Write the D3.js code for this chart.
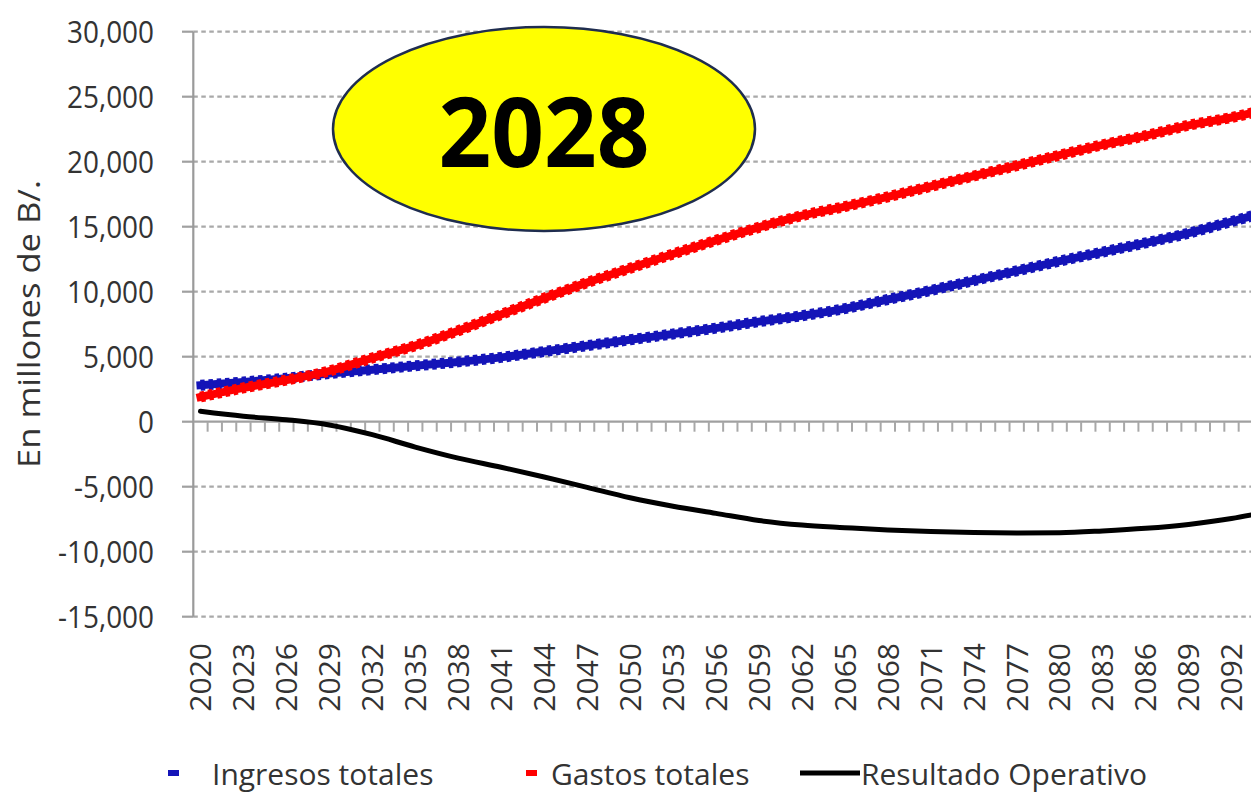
<!DOCTYPE html>
<html>
<head>
<meta charset="utf-8">
<script src="https://cdn.jsdelivr.net/npm/d3@7"></script>
<style>
  html, body { margin: 0; padding: 0; background: #fff; }
  svg { display: block; font-family: "Open Sans", "DejaVu Sans", sans-serif; }
</style>
</head>
<body>
<svg id="chart" width="1251" height="793"></svg>
<script>
// ---- data ----
const years = [2020, 2023, 2026, 2029, 2032, 2035, 2038, 2041, 2044, 2047, 2050, 2053, 2056,
               2059, 2062, 2065, 2068, 2071, 2074, 2077, 2080, 2083, 2086, 2089, 2092, 2094];
const ingresosTotales = [2800, 3050, 3350, 3700, 4000, 4300, 4600, 4950, 5400, 5850, 6300, 6750, 7200,
                         7700, 8150, 8700, 9400, 10100, 10850, 11600, 12350, 13050, 13750, 14500, 15400, 16000];
const gastosTotales = [1900, 2600, 3200, 3900, 4900, 5850, 7000, 8250, 9500, 10700, 11800, 12900, 13950,
                       14950, 15850, 16550, 17300, 18100, 18900, 19700, 20500, 21300, 22000, 22800, 23400, 23900];
const resultadoOperativo = [800, 420, 150, -250, -1000, -1950, -2800, -3500, -4250, -5050, -5850, -6500, -7050,
                            -7600, -7950, -8150, -8330, -8450, -8530, -8560, -8540, -8400, -8200, -7900, -7450, -7050];
const xTickLabels = ["2020","2023","2026","2029","2032","2035","2038","2041","2044","2047","2050","2053","2056",
                     "2059","2062","2065","2068","2071","2074","2077","2080","2083","2086","2089","2092"];
const yTicks = [30000, 25000, 20000, 15000, 10000, 5000, 0, -5000, -10000, -15000];
const seriesNames = ["Ingresos totales", "Gastos totales", "Resultado Operativo"];
const badgeText = "2028";
const yTitle = "En millones de B/.";

// ---- layout ----
const svg = d3.select("#chart");
const axisX = 193.3;
const step = 14.32;
const allYears = d3.range(2020, 2095);
const x = d3.scaleBand().domain(allYears).range([axisX, axisX + step * allYears.length]).padding(0);
const xc = yr => x(yr) + x.bandwidth() / 2;
const y = d3.scaleLinear().domain([-15000, 30000]).range([616.7, 31.7]);
const fmt = v => d3.format(",")(v).replace("\u2212", "-");
const textColor = "#333333";

const grid = svg.append("g");
// dotted gridlines
grid.selectAll("line.g").data(yTicks.filter(d => d !== 0)).enter().append("line")
  .attr("x1", axisX).attr("x2", 1251)
  .attr("y1", d => y(d)).attr("y2", d => y(d))
  .attr("stroke", "#a9a9a9").attr("stroke-width", 2.2).attr("stroke-dasharray", "4.5,3.5");
// y-axis outer ticks
grid.selectAll("line.t").data(yTicks).enter().append("line")
  .attr("x1", 182).attr("x2", axisX)
  .attr("y1", d => y(d)).attr("y2", d => y(d))
  .attr("stroke", "#a0a0a0").attr("stroke-width", 2.2);
// y axis line
grid.append("line").attr("x1", axisX).attr("x2", axisX).attr("y1", y(30000)).attr("y2", y(-15000))
  .attr("stroke", "#9a9a9a").attr("stroke-width", 2.2);
// zero (category) axis
grid.append("line").attr("x1", axisX).attr("x2", 1251).attr("y1", y(0)).attr("y2", y(0))
  .attr("stroke", "#a0a0a0").attr("stroke-width", 2.2);
// minor ticks below zero line at category boundaries
grid.selectAll("line.m").data(allYears).enter().append("line")
  .attr("x1", d => x(d) + x.bandwidth()).attr("x2", d => x(d) + x.bandwidth())
  .attr("y1", y(0)).attr("y2", y(0) + 10)
  .attr("stroke", "#a8a8a8").attr("stroke-width", 2);

// y tick labels
svg.append("g").selectAll("text").data(yTicks).enter().append("text")
  .attr("transform", d => `translate(154,${y(d)}) scale(0.9,1)`)
  .attr("text-anchor", "end").attr("dy", "0.36em")
  .attr("font-size", 31).attr("font-weight", 500).attr("fill", textColor)
  .text(d => fmt(d));

// x tick labels
svg.append("g").selectAll("text").data(xTickLabels).enter().append("text")
  .attr("transform", d => `translate(${xc(+d)},643) rotate(-90)`)
  .attr("text-anchor", "end").attr("dy", "0.36em")
  .attr("font-size", 30).attr("font-weight", 500).attr("fill", textColor)
  .text(d => d);

// y title
svg.append("text")
  .attr("transform", "translate(40,324) rotate(-90)")
  .attr("text-anchor", "middle")
  .attr("font-size", 31).attr("font-weight", 500).attr("fill", textColor)
  .attr("textLength", 288).attr("lengthAdjust", "spacingAndGlyphs")
  .text(yTitle);

// ---- series ----
const line = d3.line().x((d, i) => xc(years[i])).y(d => y(d)).curve(d3.curveMonotoneX);
const plot = svg.append("g");
function thickSeries(values, color) {
  plot.append("path").attr("d", line(values)).attr("fill", "none")
    .attr("stroke", color).attr("stroke-width", 8).attr("stroke-linecap", "square");
  plot.append("path").attr("d", line(values)).attr("fill", "none")
    .attr("stroke", color).attr("stroke-width", 11).attr("stroke-dasharray", "4.5,3.8");
}
thickSeries(ingresosTotales, "#1414b8");
thickSeries(gastosTotales, "#ff0000");
plot.append("path").attr("d", line(resultadoOperativo)).attr("fill", "none")
  .attr("stroke", "#000").attr("stroke-width", 5).attr("stroke-linecap", "round");

// ---- legend ----
const leg = svg.append("g");
leg.append("rect").attr("x", 168).attr("y", 770).attr("width", 11).attr("height", 6).attr("fill", "#1414b8");
leg.append("text").attr("x", 212).attr("y", 785).attr("font-size", 30).attr("font-weight", 500).attr("fill", textColor).text(seriesNames[0]);
leg.append("rect").attr("x", 526).attr("y", 770).attr("width", 11).attr("height", 6).attr("fill", "#ff0000");
leg.append("text").attr("x", 551).attr("y", 785).attr("font-size", 30).attr("font-weight", 500).attr("fill", textColor).text(seriesNames[1]);
leg.append("line").attr("x1", 800).attr("x2", 860).attr("y1", 773).attr("y2", 773)
  .attr("stroke", "#000").attr("stroke-width", 5);
leg.append("text").attr("x", 861).attr("y", 785).attr("font-size", 30).attr("font-weight", 500).attr("fill", textColor).text(seriesNames[2]);

// ---- badge ----
svg.append("ellipse").attr("cx", 544).attr("cy", 129).attr("rx", 211).attr("ry", 102)
  .attr("fill", "#ffff00").attr("stroke", "#1f2d4f").attr("stroke-width", 2.5);
svg.append("text").attr("x", 544).attr("y", 166.5).attr("text-anchor", "middle")
  .attr("font-size", 97).attr("font-weight", 700).attr("fill", "#000")
  .attr("textLength", 211).attr("lengthAdjust", "spacingAndGlyphs")
  .text(badgeText);
</script>
</body>
</html>
